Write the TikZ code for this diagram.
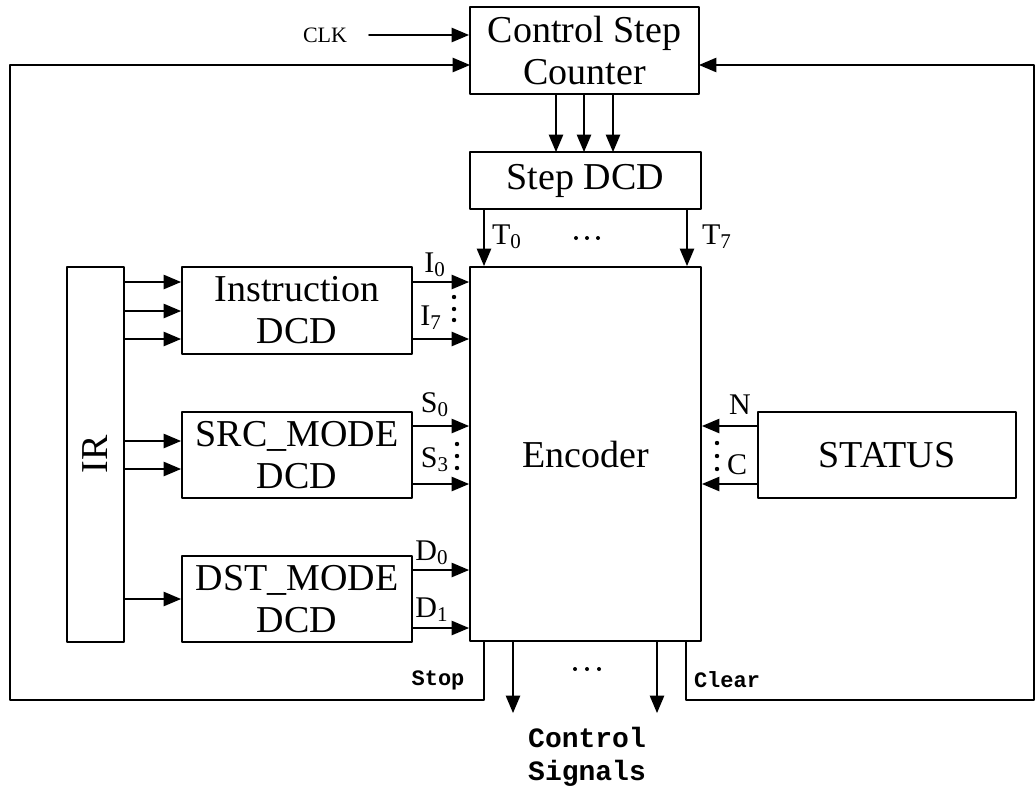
\documentclass[tikz,border=0pt]{standalone}
\usepackage{fontspec}
\setmainfont{Liberation Serif}
\setmonofont{Liberation Mono}
\usetikzlibrary{arrows}

\begin{document}
\begin{tikzpicture}[line cap=round,line join=round,>=triangle 45,x=0.5pt,y=-0.5pt,
	blk/.style={draw,line width=1pt,inner sep=0pt,align=center,font=\fontsize{19}{21}\selectfont},
	lbl/.style={inner sep=0pt,font=\fontsize{15}{17}\selectfont},
	sig/.style={inner sep=0pt,font=\fontsize{11}{13}\selectfont\ttfamily\bfseries},
	wire/.style={line width=1pt}]
		\useasboundingbox (0,0) rectangle (1036,787);
		% blocks
		\node[blk,minimum width=114.5pt,minimum height=43.5pt] (counter) at (584.5,50.5) {Control Step\\Counter};
		\node[blk,minimum width=115.5pt,minimum height=28.5pt] (stepdcd) at (585.5,180.5) {Step DCD};
		\node[blk,minimum width=115.5pt,minimum height=187pt] (encoder) at (585.5,454) {Encoder};
		\node[blk,minimum width=28.5pt,minimum height=187.5pt] (ir) at (95.5,454.5) {};
		\node[inner sep=0pt,font=\fontsize{19}{21}\selectfont,rotate=90] (irtext) at (ir.center) {IR};
		\node[blk,minimum width=115pt,minimum height=43.5pt] (instr) at (297,310.5) {Instruction\\DCD};
		\node[blk,minimum width=115pt,minimum height=43pt] (src) at (297,455) {SRC\_MODE\\DCD};
		\node[blk,minimum width=115pt,minimum height=43pt] (dst) at (297,599) {DST\_MODE\\DCD};
		\node[blk,minimum width=129pt,minimum height=43pt] (status) at (887,455) {STATUS};
		% clock and feedback into the counter
		\node[inner sep=0pt,font=\fontsize{11}{13}\selectfont] (clk) at (325,35) {CLK};
		\coordinate (clkout) at (369,35);
		\draw[wire,->] (clkout) -- (clkout -| counter.west);
		\coordinate (stopout) at (484,641);
		\coordinate (stopcorner) at (10,700);
		\coordinate (cntleft) at (470,65);
		\draw[wire,->] (stopout) |- (stopcorner) |- (cntleft);
		\coordinate (clearout) at (686,641);
		\coordinate (clearcorner) at (1034,700);
		\coordinate (cntright) at (699,65);
		\draw[wire,->] (clearout) |- (clearcorner) |- (cntright);
		\node[sig] (stop) at (438,680) {Stop};
		\node[sig] (clear) at (727,680) {Clear};
		% counter to step decoder
		\foreach \xx in {556,584,613}
			\draw[wire,->] (\xx,94) -- (\xx,152);
		% step decoder to encoder
		\coordinate (t0) at (484,209);
		\coordinate (t7) at (687,209);
		\draw[wire,->] (t0) -- (t0 |- encoder.north);
		\draw[wire,->] (t7) -- (t7 |- encoder.north);
		\node[lbl] (lt0) at (507,237) {T\textsubscript{0}};
		\node[lbl] (lt7) at (717,237) {T\textsubscript{7}};
		% IR to decoders
		\foreach \yy in {282,311,339}
			\draw[wire,->] (ir.east |- 0,\yy) -- (instr.west |- 0,\yy);
		\foreach \yy in {441,469}
			\draw[wire,->] (ir.east |- 0,\yy) -- (src.west |- 0,\yy);
		\draw[wire,->] (ir.east |- 0,599) -- (dst.west |- 0,599);
		% decoders to encoder
		\foreach \yy in {282,339}
			\draw[wire,->] (instr.east |- 0,\yy) -- (encoder.west |- 0,\yy);
		\foreach \yy in {426,484}
			\draw[wire,->] (src.east |- 0,\yy) -- (encoder.west |- 0,\yy);
		\foreach \yy in {570,628}
			\draw[wire,->] (dst.east |- 0,\yy) -- (encoder.west |- 0,\yy);
		\node[lbl] (li0) at (435,265) {I\textsubscript{0}};
		\node[lbl] (li7) at (431,318) {I\textsubscript{7}};
		\node[lbl] (ls0) at (435,405) {S\textsubscript{0}};
		\node[lbl] (ls3) at (435,460) {S\textsubscript{3}};
		\node[lbl] (ld0) at (432,553) {D\textsubscript{0}};
		\node[lbl] (ld1) at (432,610) {D\textsubscript{1}};
		% status to encoder
		\foreach \yy in {426,484}
			\draw[wire,->] (status.west |- 0,\yy) -- (encoder.east |- 0,\yy);
		\node[lbl] (ln) at (740,405) {N};
		\node[lbl] (lc) at (737,465) {C};
		% dots
		\foreach \yy in {297,309,320}
			\fill (454,\yy) circle (1.1pt);
		\foreach \yy in {444,456,468}
			\fill (457,\yy) circle (1.1pt);
		\foreach \yy in {443,456,469}
			\fill (717,\yy) circle (1.1pt);
		\foreach \xx in {576,587,598}
			\fill (\xx,238) circle (1pt);
		\foreach \xx in {575,587,599}
			\fill (\xx,669) circle (1pt);
		% control signals out
		\coordinate (cs1) at (513,641);
		\coordinate (cs2) at (657,641);
		\draw[wire,->] (cs1) -- (513,713);
		\draw[wire,->] (cs2) -- (657,713);
		\node[sig,align=center,font=\fontsize{14}{16.5}\selectfont\ttfamily\bfseries] (ctrl) at (587,757) {Control\\Signals};
\end{tikzpicture}
\end{document}
